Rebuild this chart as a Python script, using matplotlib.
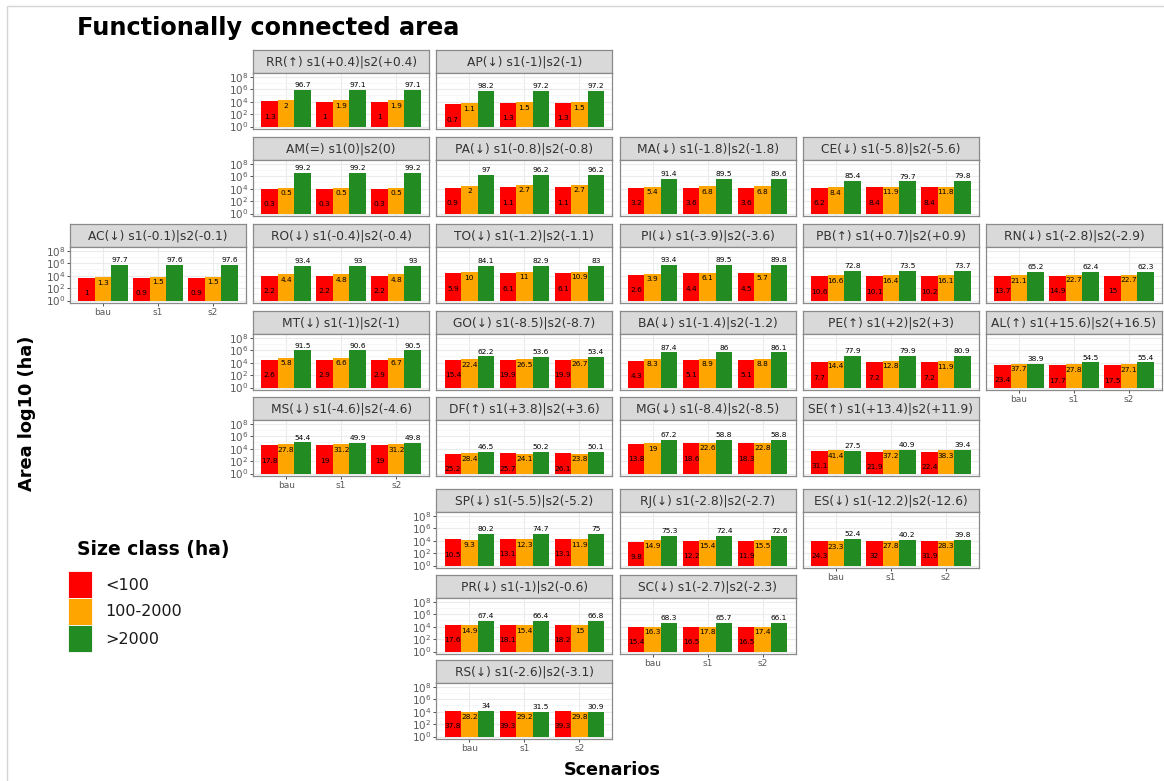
import numpy as np
import matplotlib.pyplot as plt
from matplotlib.patches import Rectangle
from matplotlib.ticker import FixedLocator, NullFormatter

# State layout on the geographic grid (row, column)
states = ['RR', 'AP', 'AM', 'PA', 'MA', 'CE', 'AC', 'RO', 'TO', 'PI', 'PB', 'RN', 'MT', 'GO',
          'BA', 'PE', 'AL', 'MS', 'DF', 'MG', 'SE', 'SP', 'RJ', 'ES', 'PR', 'SC', 'RS']
grid_row = [0, 0, 1, 1, 1, 1, 2, 2, 2, 2, 2, 2, 3, 3, 3, 3, 3, 4, 4, 4, 4, 5, 5, 5, 6, 6, 7]
grid_col = [1, 2, 1, 2, 3, 4, 0, 1, 2, 3, 4, 5, 1, 2, 3, 4, 5, 1, 2, 3, 4, 2, 3, 4, 2, 3, 2]

# change (%) of total connected area in each scenario relative to bau
change_s1 = [0.4, -1, 0, -0.8, -1.8, -5.8, -0.1, -0.4, -1.2, -3.9, 0.7, -2.8, -1, -8.5,
             -1.4, 2, 15.6, -4.6, 3.8, -8.4, 13.4, -5.5, -2.8, -12.2, -1, -2.7, -2.6]
change_s2 = [0.4, -1, 0, -0.8, -1.8, -5.6, -0.1, -0.4, -1.1, -3.6, 0.9, -2.9, -1, -8.7,
             -1.2, 3, 16.5, -4.6, 3.6, -8.5, 11.9, -5.2, -2.7, -12.6, -0.6, -2.3, -3.1]

# total functionally connected area in bau (ha)
total_bau_ha = [890000, 540000, 2900000, 1500000, 370000, 195000, 460000, 370000, 380000,
                540000, 74000, 60000, 1000000, 160000, 500000, 145000, 17000, 180000, 6300,
                400000, 13500, 150000, 72000, 37000, 112000, 58000, 33000]

# share (%) of each size class, per state: [bau, s1, s2]
pct_small = [[1.3, 1, 1], [0.7, 1.3, 1.3], [0.3, 0.3, 0.3], [0.9, 1.1, 1.1], [3.2, 3.6, 3.6],
             [6.2, 8.4, 8.4], [1, 0.9, 0.9], [2.2, 2.2, 2.2], [5.9, 6.1, 6.1], [2.6, 4.4, 4.5],
             [10.6, 10.1, 10.2], [13.7, 14.9, 15], [2.6, 2.9, 2.9], [15.4, 19.9, 19.9],
             [4.3, 5.1, 5.1], [7.7, 7.2, 7.2], [23.4, 17.7, 17.5], [17.8, 19, 19],
             [25.2, 25.7, 26.1], [13.8, 18.6, 18.3], [31.1, 21.9, 22.4], [10.5, 13.1, 13.1],
             [9.8, 12.2, 11.9], [24.3, 32, 31.9], [17.6, 18.1, 18.2], [15.4, 16.5, 16.5],
             [37.8, 39.3, 39.3]]
pct_mid = [[2, 1.9, 1.9], [1.1, 1.5, 1.5], [0.5, 0.5, 0.5], [2, 2.7, 2.7], [5.4, 6.8, 6.8],
           [8.4, 11.9, 11.8], [1.3, 1.5, 1.5], [4.4, 4.8, 4.8], [10, 11, 10.9], [3.9, 6.1, 5.7],
           [16.6, 16.4, 16.1], [21.1, 22.7, 22.7], [5.8, 6.6, 6.7], [22.4, 26.5, 26.7],
           [8.3, 8.9, 8.8], [14.4, 12.8, 11.9], [37.7, 27.8, 27.1], [27.8, 31.2, 31.2],
           [28.4, 24.1, 23.8], [19, 22.6, 22.8], [41.4, 37.2, 38.3], [9.3, 12.3, 11.9],
           [14.9, 15.4, 15.5], [23.3, 27.8, 28.3], [14.9, 15.4, 15], [16.3, 17.8, 17.4],
           [28.2, 29.2, 29.8]]
pct_large = [[96.7, 97.1, 97.1], [98.2, 97.2, 97.2], [99.2, 99.2, 99.2], [97, 96.2, 96.2],
             [91.4, 89.5, 89.6], [85.4, 79.7, 79.8], [97.7, 97.6, 97.6], [93.4, 93, 93],
             [84.1, 82.9, 83], [93.4, 89.5, 89.8], [72.8, 73.5, 73.7], [65.2, 62.4, 62.3],
             [91.5, 90.6, 90.5], [62.2, 53.6, 53.4], [87.4, 86, 86.1], [77.9, 79.9, 80.9],
             [38.9, 54.5, 55.4], [54.4, 49.9, 49.8], [46.5, 50.2, 50.1], [67.2, 58.8, 58.8],
             [27.5, 40.9, 39.4], [80.2, 74.7, 75], [75.3, 72.4, 72.6], [52.4, 40.2, 39.8],
             [67.4, 66.4, 66.8], [68.3, 65.7, 66.1], [34, 31.5, 30.9]]

scenarios = ['bau', 's1', 's2']
size_classes = ['<100', '100-2000', '>2000']
colors = ['#FF0000', '#FFA500', '#228B22']

W, H = 1164, 781
fig = plt.figure(figsize=(W / 100, H / 100), dpi=100)


def px_rect(x, y, w, h):
    return [x / W, 1 - (y + h) / H, w / W, h / H]


col_left = [70 + 183.2 * c for c in range(6)]
row_top = [50, 137, 224, 311, 397, 489, 575, 660]
panel_w, strip_h, plot_h = 176, 23, 56
occupied = set(zip(grid_row, grid_col))


def signed(v):
    return '0' if v == 0 else f'{v:+g}'


for i, st in enumerate(states):
    r, c = grid_row[i], grid_col[i]
    x0, y0 = col_left[c], row_top[r]
    arrow = '↑' if change_s1[i] > 0 else ('↓' if change_s1[i] < 0 else '=')
    title = f'{st}({arrow}) s1({signed(change_s1[i])})|s2({signed(change_s2[i])})'

    # strip
    sax = fig.add_axes(px_rect(x0, y0, panel_w, strip_h))
    sax.set_facecolor('#D9D9D9')
    sax.set_xticks([])
    sax.set_yticks([])
    for sp in sax.spines.values():
        sp.set_color('#8a8a8a')
        sp.set_linewidth(0.9)
    sax.text(0.5, 0.47, title, ha='center', va='center', fontsize=8.8, color='#333333',
             transform=sax.transAxes)

    # panel
    ax = fig.add_axes(px_rect(x0, y0 + strip_h, panel_w, plot_h))
    totals = [total_bau_ha[i],
              total_bau_ha[i] * (1 + change_s1[i] / 100),
              total_bau_ha[i] * (1 + change_s2[i] / 100)]
    shares = [pct_small[i], pct_mid[i], pct_large[i]]
    offsets = [-0.3, 0, 0.3]
    x = np.arange(3)
    for k in range(3):
        area = np.array([totals[s] * shares[k][s] / 100 for s in range(3)])
        ax.bar(x + offsets[k], area - 1, bottom=1, width=0.3, color=colors[k], zorder=2)
        for s in range(3):
            lab = f'{shares[k][s]:g}'
            dy = [-11, -4, 3.5][k]
            ax.annotate(lab, (x[s] + offsets[k], area[s]), xytext=(0, dy),
                        textcoords='offset points', ha='center', va='center',
                        fontsize=5.3, color='black', zorder=3)

    ax.set_yscale('log')
    ax.set_ylim(10 ** -0.4, 10 ** 8.6)
    ax.set_xlim(-0.6, 2.6)
    ax.yaxis.set_major_locator(FixedLocator([1, 1e2, 1e4, 1e6, 1e8]))
    ax.yaxis.set_minor_locator(FixedLocator([10, 1e3, 1e5, 1e7]))
    ax.yaxis.set_minor_formatter(NullFormatter())
    ax.set_yticklabels([r'$10^{0}$', r'$10^{2}$', r'$10^{4}$', r'$10^{6}$', r'$10^{8}$'])
    ax.set_xticks(x)
    ax.set_xticklabels(scenarios)
    ax.grid(which='major', color='#EBEBEB', linewidth=0.8, zorder=0)
    ax.grid(which='minor', axis='y', color='#F3F3F3', linewidth=0.5, zorder=0)
    ax.set_axisbelow(True)
    ax.tick_params(which='minor', length=0, labelleft=False, labelbottom=False)
    ax.tick_params(which='major', length=2.5, width=0.6, color='#333333',
                   labelsize=7.5, labelcolor='#5a5a5a', pad=1)
    for sp in ax.spines.values():
        sp.set_color('#8a8a8a')
        sp.set_linewidth(0.9)

    show_y = (r, c - 1) not in occupied
    show_x = (r + 1, c) not in occupied
    ax.tick_params(axis='y', which='major', left=show_y, labelleft=show_y)
    ax.tick_params(axis='x', which='major', bottom=show_x, labelbottom=show_x, labelsize=6.5)

# titles
fig.text(77 / W, 1 - 28 / H, 'Functionally connected area', fontsize=17.3,
         fontweight='bold', ha='left', va='center')
fig.text(27 / W, 1 - 413 / H, 'Area log10 (ha)', fontsize=12.8, fontweight='bold',
         rotation=90, ha='center', va='center')
fig.text(612 / W, 1 - 770 / H, 'Scenarios', fontsize=12.7, fontweight='bold',
         ha='center', va='center')

# legend
fig.text(77 / W, 1 - 549 / H, 'Size class (ha)', fontsize=13.5, fontweight='bold',
         ha='left', va='center')
for k, lab in enumerate(size_classes):
    yk = 571 + 27 * k
    fig.patches.append(Rectangle((68 / W, 1 - (yk + 27) / H), 24 / W, 27 / H,
                                 transform=fig.transFigure, facecolor=colors[k],
                                 edgecolor='white', linewidth=0.6))
    fig.text(105 / W, 1 - (yk + 14) / H, lab, fontsize=11.5, color='#1a1a1a',
             ha='left', va='center')

# outer frame
fig.patches.append(Rectangle((7 / W, -0.01), 1.02, 1 - 6 / H + 0.01,
                             transform=fig.transFigure, fill=False,
                             edgecolor='#D5D5D5', linewidth=1))

fig.savefig('out.png', dpi=100)
